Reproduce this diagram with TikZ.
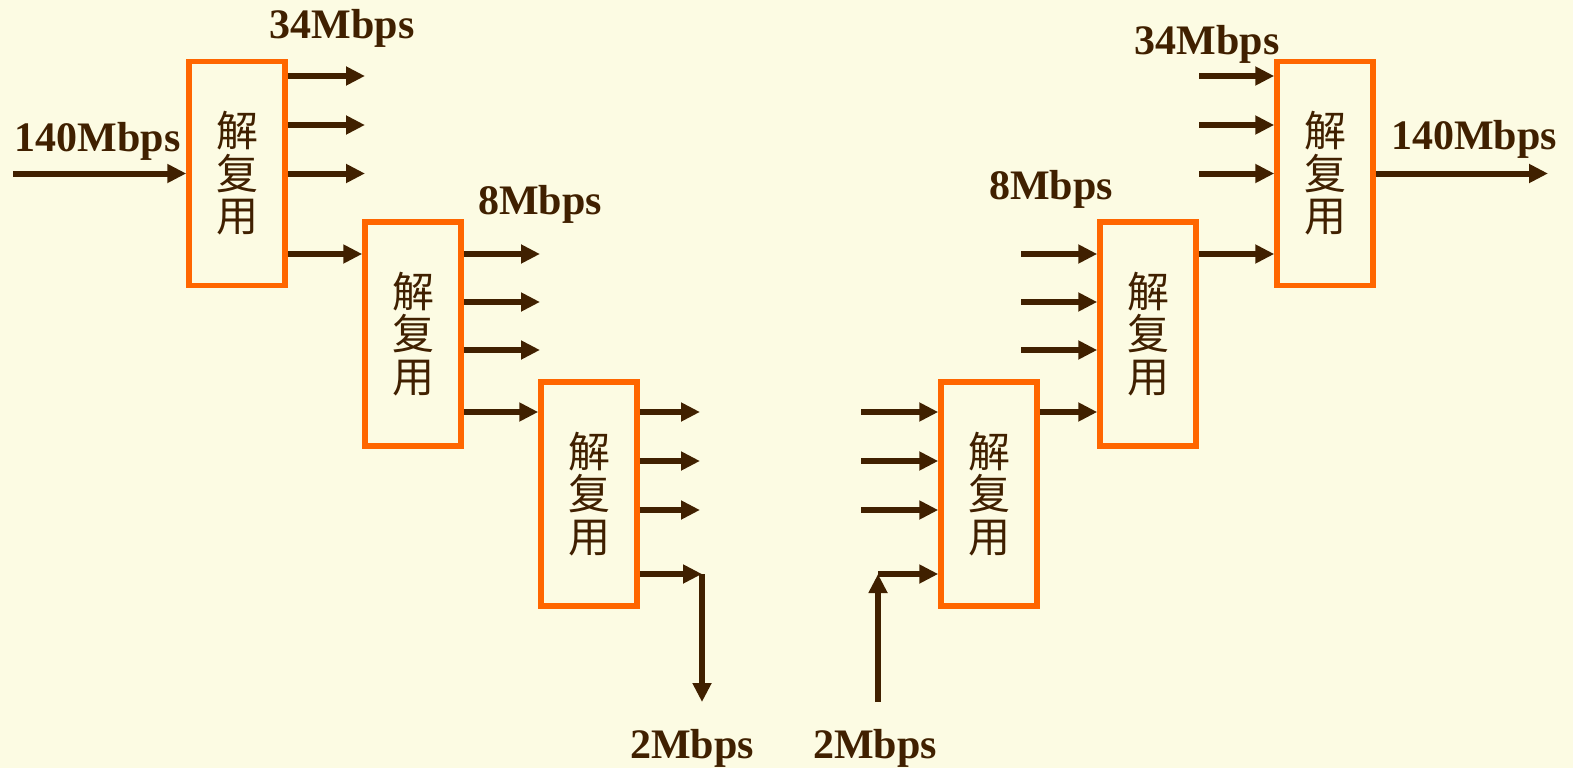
\documentclass[tikz,border=0pt]{standalone}
\usepackage{fontspec}
\setmainfont{Liberation Serif}
\newfontfamily\cjk{Noto Sans CJK SC}
\usetikzlibrary{arrows.meta}
\definecolor{bgc}{HTML}{FCFBE3}
\definecolor{orc}{HTML}{FF6600}
\definecolor{brc}{HTML}{402000}
\begin{document}
\begin{tikzpicture}[x=1pt,y=-1pt,
  mux/.style={draw=orc,line width=5.5pt,fill=bgc,minimum width=96pt,minimum height=224pt,inner sep=0pt,
    text=brc,align=center,font=\cjk\fontsize{42}{42.5}\selectfont},
  arr/.style={draw=brc,line width=6pt,-{Triangle[length=19pt,width=18pt]}},
  lbl/.style={text=brc,font=\bfseries\fontsize{42}{42}\selectfont,anchor=base,inner sep=0pt}]
\useasboundingbox (0,0) rectangle (1573,768);
\fill[bgc] (0,0) rectangle (1573,768);
% boxes
\node[mux] (b1) at (237,173.5) {解\\复\\用};
\node[mux] (b2) at (413,334) {解\\复\\用};
\node[mux] (b3) at (589,494) {解\\复\\用};
\node[mux] (b4) at (989,494) {解\\复\\用};
\node[mux] (b5) at (1148,334) {解\\复\\用};
\node[mux] (b6) at (1325,173.5) {解\\复\\用};
% free ends
\coordinate (in1) at (13,173.5);
\coordinate (o1a) at (365,76);
\coordinate (o1b) at (365,125);
\coordinate (o1c) at (365,173.5);
\coordinate (o2a) at (540,254);
\coordinate (o2b) at (540,302);
\coordinate (o2c) at (540,350);
\coordinate (o3a) at (700,412);
\coordinate (o3b) at (700,461);
\coordinate (o3c) at (700,510);
\coordinate (o3d) at (702,574);
\coordinate (o3e) at (702,702);
\coordinate (i4a) at (861,412);
\coordinate (i4b) at (861,461);
\coordinate (i4c) at (861,510);
\coordinate (i4d) at (878,574);
\coordinate (i4e) at (878,702);
\coordinate (i5a) at (1021,254);
\coordinate (i5b) at (1021,302);
\coordinate (i5c) at (1021,350);
\coordinate (i6a) at (1199,76);
\coordinate (i6b) at (1199,125);
\coordinate (i6c) at (1199,173.5);
\coordinate (out6) at (1548,173.5);
% left chain
\draw[arr] (in1) -- (b1.west |- in1);
\draw[arr] (b1.east |- o1a) -- (o1a);
\draw[arr] (b1.east |- o1b) -- (o1b);
\draw[arr] (b1.east |- o1c) -- (o1c);
\draw[arr] (b1.east |- o2a) -- (b2.west |- o2a);
\draw[arr] (b2.east |- o2a) -- (o2a);
\draw[arr] (b2.east |- o2b) -- (o2b);
\draw[arr] (b2.east |- o2c) -- (o2c);
\draw[arr] (b2.east |- o3a) -- (b3.west |- o3a);
\draw[arr] (b3.east |- o3a) -- (o3a);
\draw[arr] (b3.east |- o3b) -- (o3b);
\draw[arr] (b3.east |- o3c) -- (o3c);
\draw[arr] (b3.east |- o3d) -- (o3d);
\draw[arr] (o3d) -- (o3e);
% right chain
\draw[arr] (i4e) -- (i4d);
\draw[arr] (i4d) -- (b4.west |- i4d);
\draw[arr] (i4a) -- (b4.west |- i4a);
\draw[arr] (i4b) -- (b4.west |- i4b);
\draw[arr] (i4c) -- (b4.west |- i4c);
\draw[arr] (b4.east |- i4a) -- (b5.west |- i4a);
\draw[arr] (i5a) -- (b5.west |- i5a);
\draw[arr] (i5b) -- (b5.west |- i5b);
\draw[arr] (i5c) -- (b5.west |- i5c);
\draw[arr] (b5.east |- i5a) -- (b6.west |- i5a);
\draw[arr] (i6a) -- (b6.west |- i6a);
\draw[arr] (i6b) -- (b6.west |- i6b);
\draw[arr] (i6c) -- (b6.west |- i6c);
\draw[arr] (b6.east |- out6) -- (out6);
% labels
\node[lbl] (l1) at (97.5,151) {140Mbps};
\node[lbl] (l2) at (342,38) {34Mbps};
\node[lbl] (l3) at (540,214) {8Mbps};
\node[lbl] (l4) at (692,758) {2Mbps};
\node[lbl] (l5) at (875,758) {2Mbps};
\node[lbl] (l6) at (1051,199) {8Mbps};
\node[lbl] (l7) at (1207,55) {34Mbps};
\node[lbl] (l8) at (1474,149) {140Mbps};
\end{tikzpicture}
\end{document}
